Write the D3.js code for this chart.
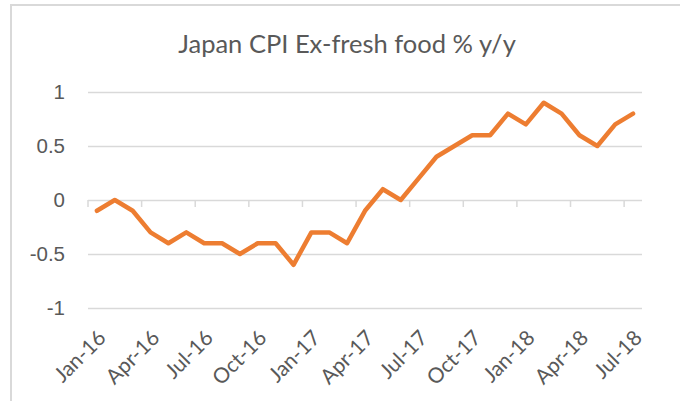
<!DOCTYPE html>
<html lang="en">
<head>
  <meta charset="UTF-8" />
  <title>Japan CPI Ex-fresh food % y/y</title>
  <script src="https://d3js.org/d3.v7.min.js"></script>
  <style>
    body {
      margin: 0;
      background-color: #ffffff;
    }
    svg {
      display: block;
      font-family: 'Lato', 'Open Sans', sans-serif;
    }
  </style>
</head>
<body>
<div id="chart"></div>
<script>
const months = [
  "Jan-16","Feb-16","Mar-16","Apr-16","May-16","Jun-16","Jul-16","Aug-16","Sep-16","Oct-16","Nov-16","Dec-16",
  "Jan-17","Feb-17","Mar-17","Apr-17","May-17","Jun-17","Jul-17","Aug-17","Sep-17","Oct-17","Nov-17","Dec-17",
  "Jan-18","Feb-18","Mar-18","Apr-18","May-18","Jun-18","Jul-18"
];
const cpiValues = [
  -0.1, 0, -0.1, -0.3, -0.4, -0.3, -0.4, -0.4, -0.5, -0.4, -0.4, -0.6,
  -0.3, -0.3, -0.4, -0.1, 0.1, 0, 0.2, 0.4, 0.5, 0.6, 0.6, 0.8,
  0.7, 0.9, 0.8, 0.6, 0.5, 0.7, 0.8
];
const yTicks = [-1, -0.5, 0, 0.5, 1];
const labelMonths = months.filter((m, i) => i % 3 === 0);

const W = 680, H = 401;
const margin = { top: 92, right: 38, bottom: 93, left: 88 };
const width = W - margin.left - margin.right,
      height = H - margin.top - margin.bottom;

const svg = d3.select("#chart")
  .append("svg")
  .attr("width", W)
  .attr("height", H);

// chart frame (only top and left edges show in the crop)
svg.append("rect")
  .attr("x", 11).attr("y", 5)
  .attr("width", 720).attr("height", 440)
  .attr("fill", "none")
  .attr("stroke", "#d9d9d9")
  .attr("stroke-width", 2);

svg.append("text")
  .attr("x", 347)
  .attr("y", 53)
  .attr("text-anchor", "middle")
  .style("font-size", "25.5px")
  .style("fill", "#595959")
  .text("Japan CPI Ex-fresh food % y/y");

const g = svg.append("g")
  .attr("transform", `translate(${margin.left},${margin.top})`);

const x = d3.scaleBand().domain(months).range([0, width]).padding(0);
const y = d3.scaleLinear().domain([-1, 1]).range([height, 0]);

// gridlines + y labels
const yAxis = g.append("g")
  .call(d3.axisLeft(y)
    .tickValues(yTicks)
    .tickSize(-width)
    .tickPadding(23)
    .tickFormat(d => String(d)));
yAxis.select(".domain").remove();
yAxis.selectAll("line")
  .attr("stroke", "#d9d9d9")
  .attr("stroke-width", 1.5);
yAxis.selectAll("text")
  .style("font-size", "20.5px")
  .style("fill", "#595959");

// category tick marks on zero line
g.append("g")
  .selectAll("line")
  .data(labelMonths)
  .enter()
  .append("line")
  .attr("x1", d => x(d))
  .attr("x2", d => x(d))
  .attr("y1", y(0))
  .attr("y2", y(0) + 7)
  .attr("stroke", "#d9d9d9")
  .attr("stroke-width", 1.5);

// rotated month labels
g.append("g")
  .selectAll("text")
  .data(labelMonths)
  .enter()
  .append("text")
  .attr("transform", d => `translate(${x(d) + x.bandwidth() / 2 + 5},${height + 26}) rotate(-45)`)
  .attr("text-anchor", "end")
  .attr("dy", "0.35em")
  .style("font-size", "21px")
  .style("fill", "#595959")
  .text(d => d);

const line = d3.line()
  .x((d, i) => x(months[i]) + x.bandwidth() / 2)
  .y(d => y(d));

g.append("path")
  .datum(cpiValues)
  .attr("d", line)
  .attr("fill", "none")
  .attr("stroke", "#ED7D31")
  .attr("stroke-width", 4.5)
  .attr("stroke-linejoin", "round")
  .attr("stroke-linecap", "round");
</script>
</body>
</html>
